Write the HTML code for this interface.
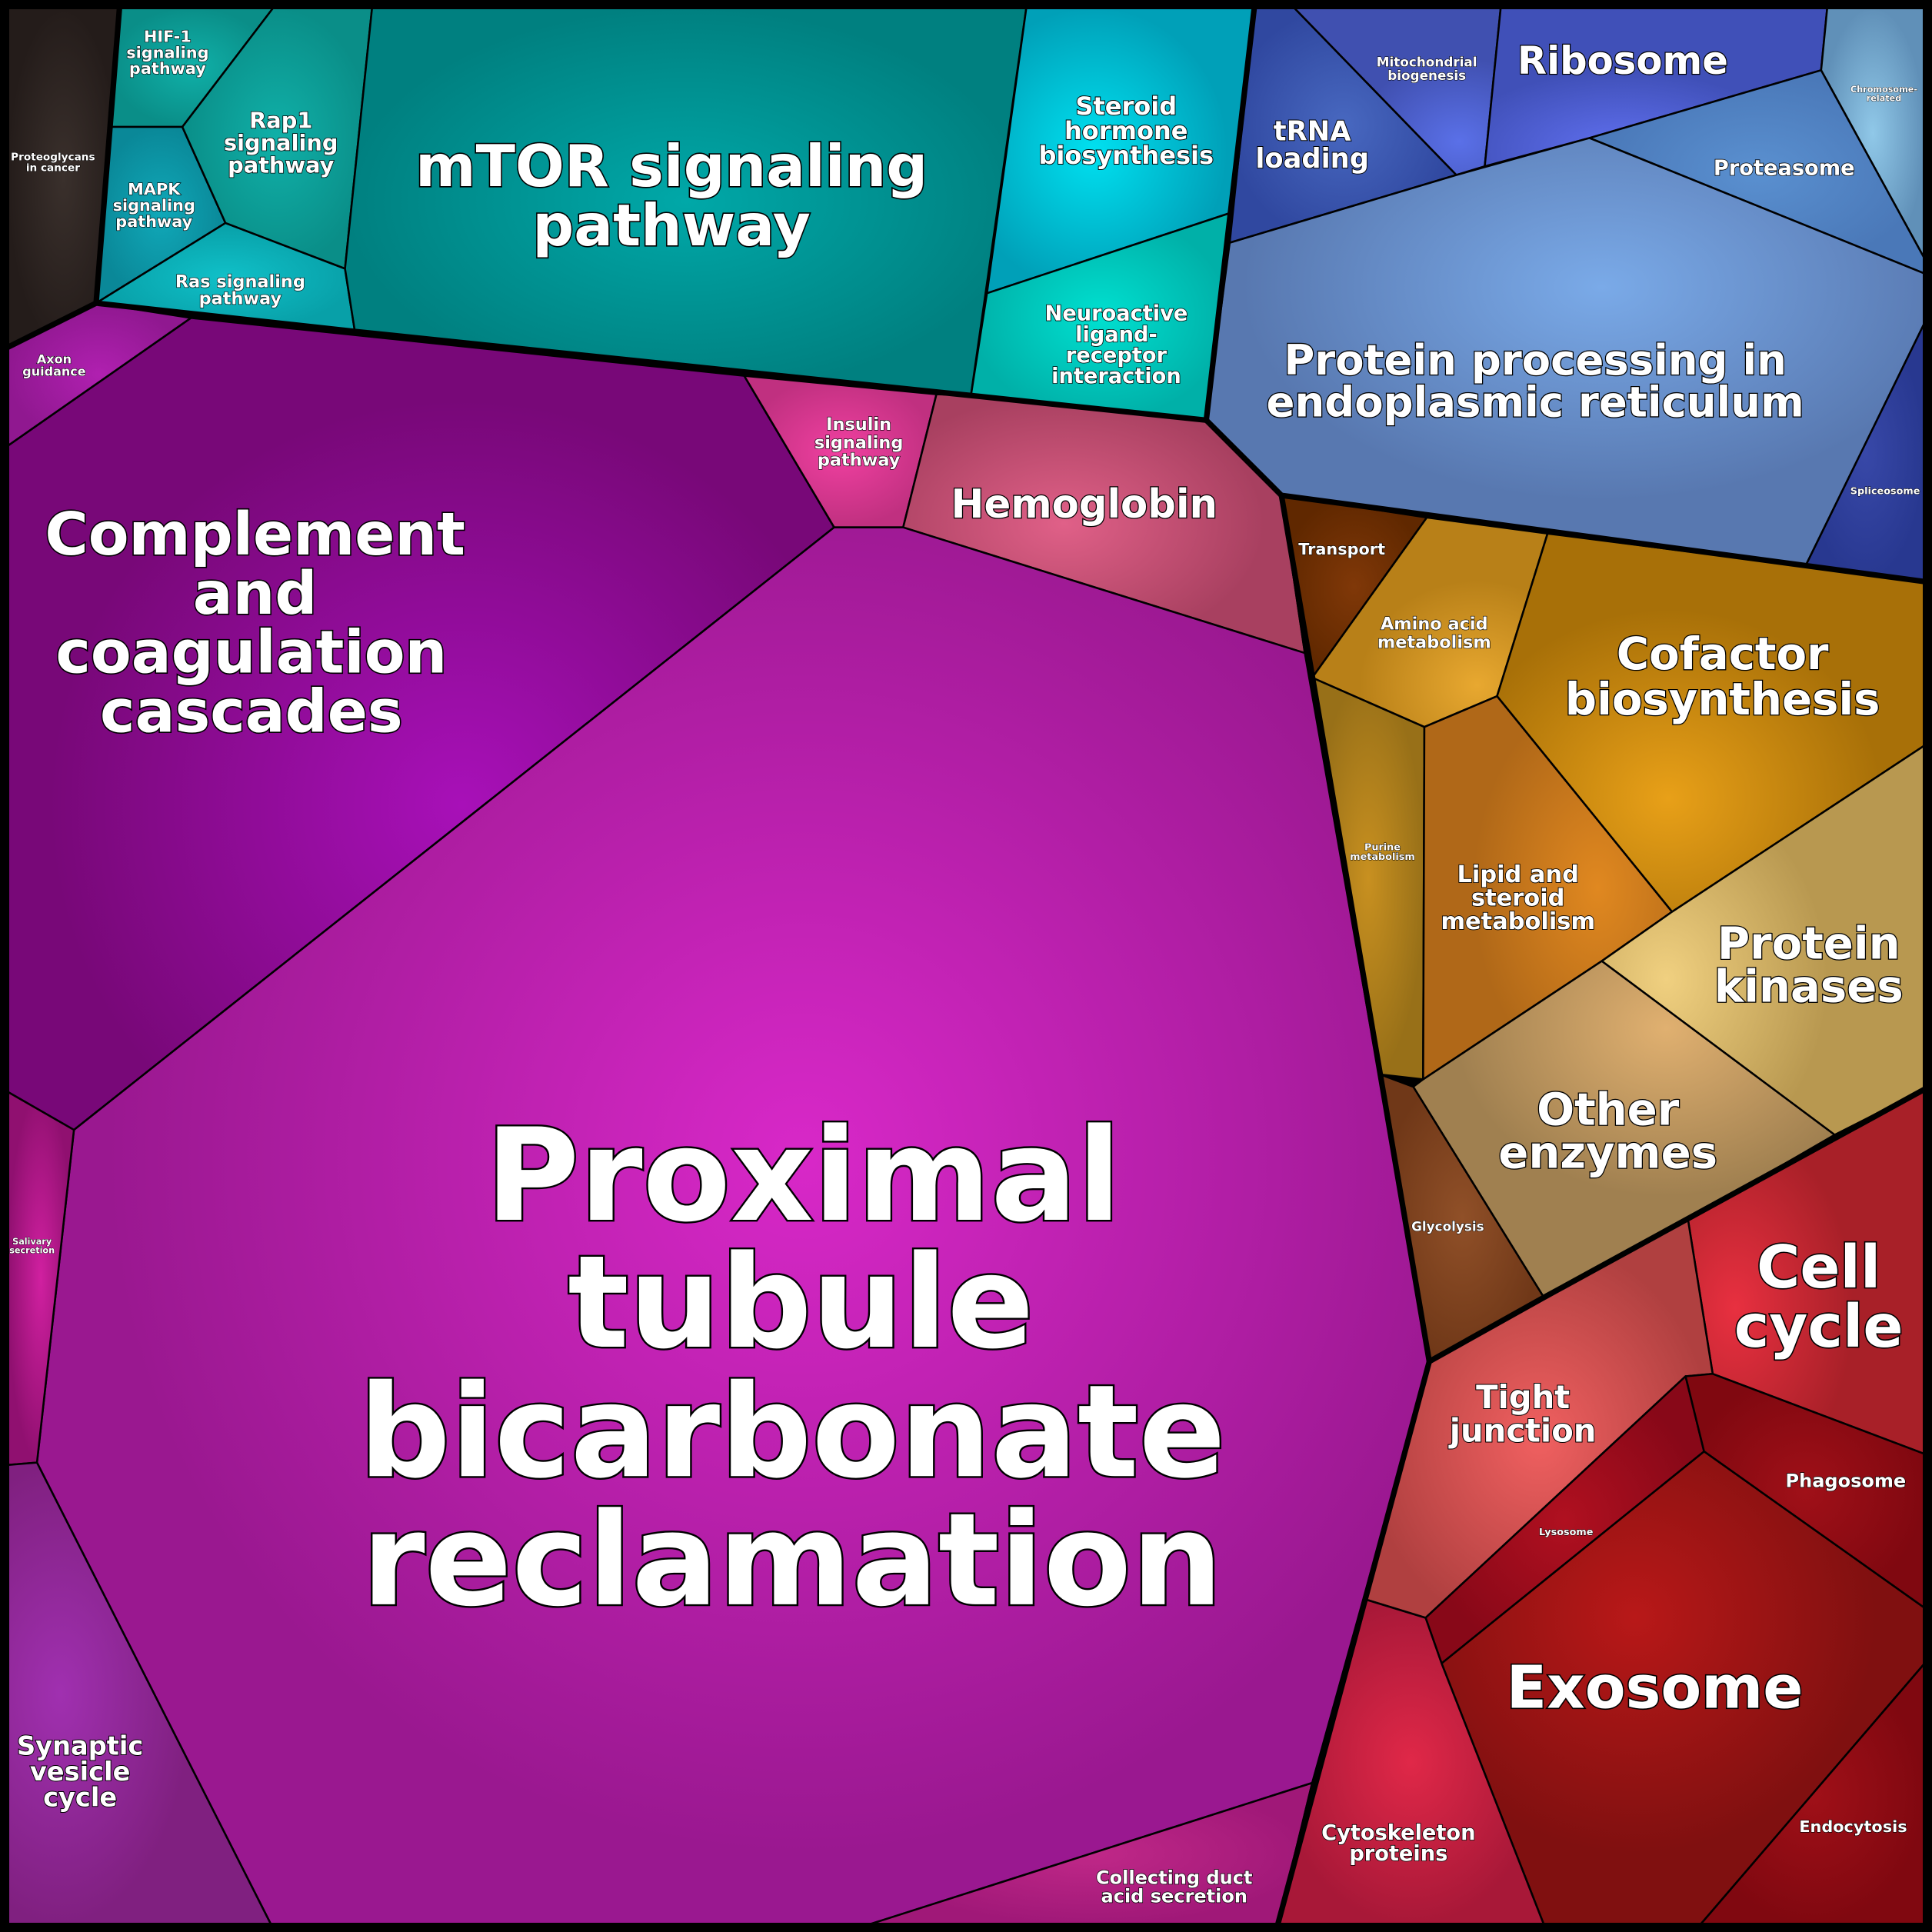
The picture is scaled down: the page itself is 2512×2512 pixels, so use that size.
<!DOCTYPE html>
<html><head><meta charset="utf-8"><style>
html,body{margin:0;padding:0;background:#000;}
svg{display:block;}
text{font-family:"DejaVu Sans","Liberation Sans",sans-serif;font-weight:bold;fill:#fff;stroke:#000;paint-order:stroke;text-anchor:middle;}
.c{stroke:#000;stroke-width:1.6;stroke-linejoin:round;}
.t{fill:none;stroke:#000;stroke-width:4.5;stroke-linejoin:round;stroke-linecap:round;}
</style></head><body>
<svg width="2512" height="2512" viewBox="0 0 1568 1568" xmlns="http://www.w3.org/2000/svg">
<defs>
<radialGradient id="g1"><stop offset="0" stop-color="#3a302c"/><stop offset="1" stop-color="#241c1a"/></radialGradient>
<radialGradient id="g2"><stop offset="0" stop-color="#10b0a8"/><stop offset="1" stop-color="#0a8e88"/></radialGradient>
<radialGradient id="g3"><stop offset="0" stop-color="#10a8b8"/><stop offset="1" stop-color="#0a8898"/></radialGradient>
<radialGradient id="g4"><stop offset="0" stop-color="#10c0c8"/><stop offset="1" stop-color="#08a0a8"/></radialGradient>
<radialGradient id="g5"><stop offset="0" stop-color="#00a8a8"/><stop offset="1" stop-color="#008080"/></radialGradient>
<radialGradient id="g6" cx="0.4" cy="0.5"><stop offset="0" stop-color="#00e0f0"/><stop offset="1" stop-color="#00a0b8"/></radialGradient>
<radialGradient id="g7"><stop offset="0" stop-color="#00e0d0"/><stop offset="1" stop-color="#00b0a8"/></radialGradient>
<radialGradient id="g8"><stop offset="0" stop-color="#4868c0"/><stop offset="1" stop-color="#3048a0"/></radialGradient>
<radialGradient id="g9" cx="0.8" cy="0.8"><stop offset="0" stop-color="#5a70e8"/><stop offset="1" stop-color="#4050b0"/></radialGradient>
<radialGradient id="g10" cx="0.4" cy="0.9"><stop offset="0" stop-color="#6070f0"/><stop offset="1" stop-color="#4050b8"/></radialGradient>
<radialGradient id="g11"><stop offset="0" stop-color="#90c8e8"/><stop offset="1" stop-color="#6090b8"/></radialGradient>
<radialGradient id="g12"><stop offset="0" stop-color="#5a90d0"/><stop offset="1" stop-color="#4a78b8"/></radialGradient>
<radialGradient id="g13" cx="0.55" cy="0.35"><stop offset="0" stop-color="#7aaae8"/><stop offset="1" stop-color="#5878b0"/></radialGradient>
<radialGradient id="g14"><stop offset="0" stop-color="#3848a8"/><stop offset="1" stop-color="#283890"/></radialGradient>
<radialGradient id="g15" cx="0.55" cy="0.6"><stop offset="0" stop-color="#a810b8"/><stop offset="1" stop-color="#780878"/></radialGradient>
<radialGradient id="g16"><stop offset="0" stop-color="#b020b0"/><stop offset="1" stop-color="#901890"/></radialGradient>
<radialGradient id="g17"><stop offset="0" stop-color="#f040a0"/><stop offset="1" stop-color="#c03080"/></radialGradient>
<radialGradient id="g18" cx="0.4" cy="0.5"><stop offset="0" stop-color="#e06088"/><stop offset="1" stop-color="#a84060"/></radialGradient>
<radialGradient id="g19" cx="0.55" cy="0.45"><stop offset="0" stop-color="#d828c8"/><stop offset="1" stop-color="#9a1890"/></radialGradient>
<radialGradient id="g20"><stop offset="0" stop-color="#d020a0"/><stop offset="1" stop-color="#901070"/></radialGradient>
<radialGradient id="g21" cx="0.2" cy="0.5"><stop offset="0" stop-color="#a030b0"/><stop offset="1" stop-color="#802080"/></radialGradient>
<radialGradient id="g22"><stop offset="0" stop-color="#c02888"/><stop offset="1" stop-color="#a01878"/></radialGradient>
<radialGradient id="g23"><stop offset="0" stop-color="#803808"/><stop offset="1" stop-color="#602800"/></radialGradient>
<radialGradient id="g24" cx="0.7" cy="0.8"><stop offset="0" stop-color="#e8a830"/><stop offset="1" stop-color="#b88018"/></radialGradient>
<radialGradient id="g25" cx="0.4" cy="0.7"><stop offset="0" stop-color="#e8a018"/><stop offset="1" stop-color="#a87008"/></radialGradient>
<radialGradient id="g26"><stop offset="0" stop-color="#c89020"/><stop offset="1" stop-color="#987018"/></radialGradient>
<radialGradient id="g27" cx="0.7" cy="0.5"><stop offset="0" stop-color="#e08820"/><stop offset="1" stop-color="#b06818"/></radialGradient>
<radialGradient id="g28" cx="0.2" cy="0.6"><stop offset="0" stop-color="#f0d080"/><stop offset="1" stop-color="#b89850"/></radialGradient>
<radialGradient id="g29" cx="0.6" cy="0.2"><stop offset="0" stop-color="#e0b070"/><stop offset="1" stop-color="#a08050"/></radialGradient>
<radialGradient id="g30"><stop offset="0" stop-color="#905028"/><stop offset="1" stop-color="#703818"/></radialGradient>
<radialGradient id="g31" cx="0.2" cy="0.6"><stop offset="0" stop-color="#e83040"/><stop offset="1" stop-color="#a82028"/></radialGradient>
<radialGradient id="g32" cx="0.5" cy="0.55"><stop offset="0" stop-color="#f06060"/><stop offset="1" stop-color="#b04040"/></radialGradient>
<radialGradient id="g33"><stop offset="0" stop-color="#b01020"/><stop offset="1" stop-color="#880818"/></radialGradient>
<radialGradient id="g34"><stop offset="0" stop-color="#a01018"/><stop offset="1" stop-color="#800810"/></radialGradient>
<radialGradient id="g35" cx="0.4" cy="0.35"><stop offset="0" stop-color="#b81818"/><stop offset="1" stop-color="#801010"/></radialGradient>
<radialGradient id="g36"><stop offset="0" stop-color="#e02848"/><stop offset="1" stop-color="#a81838"/></radialGradient>
</defs>
<rect x="0" y="0" width="1568" height="1568" fill="#000"/>
<g class="c">
<polygon fill="url(#g1)" points="6,6 97,6 78,246 6,282"/>
<polygon fill="url(#g2)" points="97,6 222,6 148,103 90,103"/>
<polygon fill="url(#g3)" points="90,103 148,103 183,181 78,246"/>
<polygon fill="url(#g4)" points="78,246 183,181 280,218 288,269"/>
<polygon fill="url(#g2)" points="148,103 222,6 302,6 280,218 183,181"/>
<polygon fill="url(#g5)" points="302,6 833,6 788,321 288,269 280,218"/>
<polygon fill="url(#g6)" points="833,6 1018,6 998,173 801,238"/>
<polygon fill="url(#g7)" points="801,238 998,173 979,341 788,321"/>
<polygon fill="url(#g8)" points="1018,6 1050,6 1182,142 998,197"/>
<polygon fill="url(#g9)" points="1050,6 1218,6 1205,135 1182,142"/>
<polygon fill="url(#g10)" points="1218,6 1483,6 1478,57 1290,112 1205,135"/>
<polygon fill="url(#g11)" points="1483,6 1562,6 1562,210 1478,57"/>
<polygon fill="url(#g12)" points="1478,57 1562,210 1562,222 1290,112"/>
<polygon fill="url(#g13)" points="998,197 1182,142 1290,112 1562,222 1562,262 1466,458 1040,402 979,341"/>
<polygon fill="url(#g14)" points="1562,262 1562,472 1466,458"/>
<polygon fill="url(#g15)" points="6,362 155,258 604,305 677,428 60,917 6,886"/>
<polygon fill="url(#g16)" points="6,282 78,246 155,258 6,362"/>
<polygon fill="url(#g17)" points="604,305 760,320 733,428 677,428"/>
<polygon fill="url(#g18)" points="760,320 788,321 979,341 1040,402 1059,530 733,428"/>
<polygon fill="url(#g19)" points="60,917 677,428 733,428 1059,530 1160,1105 1065,1447 705,1562 220,1562 30,1187"/>
<polygon fill="url(#g20)" points="6,886 60,917 30,1187 6,1189"/>
<polygon fill="url(#g21)" points="6,1189 30,1187 220,1562 6,1562"/>
<polygon fill="url(#g22)" points="705,1562 1065,1447 1037,1562"/>
<polygon fill="url(#g23)" points="1040,402 1158,420 1065,550 1059,530"/>
<polygon fill="url(#g24)" points="1158,420 1256,433 1215,565 1156,590 1065,550"/>
<polygon fill="url(#g25)" points="1256,433 1562,472 1562,605 1357,740 1215,565"/>
<polygon fill="url(#g26)" points="1065,550 1156,590 1155,876 1120,872"/>
<polygon fill="url(#g27)" points="1156,590 1215,565 1357,740 1300,780 1155,876"/>
<polygon fill="url(#g28)" points="1357,740 1562,605 1562,884 1489,921 1300,780"/>
<polygon fill="url(#g29)" points="1147,882 1155,876 1300,780 1489,921 1370,990 1253,1053"/>
<polygon fill="url(#g30)" points="1120,872 1147,882 1253,1053 1160,1105"/>
<polygon fill="url(#g31)" points="1370,990 1562,884 1562,1180 1390,1115"/>
<polygon fill="url(#g32)" points="1160,1105 1253,1053 1370,990 1390,1115 1368,1117 1157,1313 1108,1298"/>
<polygon fill="url(#g33)" points="1157,1313 1368,1117 1383,1178 1170,1350"/>
<polygon fill="url(#g34)" points="1368,1117 1390,1115 1562,1180 1562,1305 1383,1178"/>
<polygon fill="url(#g35)" points="1170,1350 1383,1178 1562,1305 1562,1350 1380,1562 1253,1562"/>
<polygon fill="url(#g34)" points="1562,1350 1562,1562 1380,1562"/>
<polygon fill="url(#g36)" points="1108,1298 1157,1313 1170,1350 1253,1562 1037,1562 1065,1447"/>
</g>
<g class="t">
<polyline points="97,6 78,246 6,282"/>
<polyline points="78,246 288,269 788,321 979,341 1018,6"/>
<polyline points="979,341 1040,402 1562,472"/>
<polyline points="1040,402 1160,1105 1253,1053 1562,884"/>
<polyline points="1160,1105 1108,1298 1037,1562"/>
<rect x="4" y="4" width="1560" height="1560" stroke-width="7"/>
</g>
<g>
<text font-size="104" stroke-width="3" x="652" y="990">Proximal</text>
<text font-size="104" stroke-width="3" x="650" y="1093">tubule</text>
<text font-size="104" stroke-width="3" x="643" y="1198">bicarbonate</text>
<text font-size="104" stroke-width="3" x="643" y="1302">reclamation</text>
<text font-size="48" stroke-width="2" x="207" y="450">Complement</text>
<text font-size="48" stroke-width="2" x="207" y="498">and</text>
<text font-size="48" stroke-width="2" x="204" y="546">coagulation</text>
<text font-size="48" stroke-width="2" x="204" y="594">cascades</text>
<text font-size="47" stroke-width="2" x="545" y="151">mTOR signaling</text>
<text font-size="47" stroke-width="2" x="545" y="199">pathway</text>
<text font-size="34" stroke-width="1.6" x="1246" y="304">Protein processing in</text>
<text font-size="34" stroke-width="1.6" x="1246" y="338">endoplasmic reticulum</text>
<text font-size="32" stroke-width="1.6" x="880" y="420">Hemoglobin</text>
<text font-size="36" stroke-width="1.6" x="1398" y="543">Cofactor</text>
<text font-size="36" stroke-width="1.6" x="1398" y="580">biosynthesis</text>
<text font-size="36" stroke-width="1.6" x="1468" y="778">Protein</text>
<text font-size="36" stroke-width="1.6" x="1468" y="813">kinases</text>
<text font-size="36" stroke-width="1.6" x="1305" y="913">Other</text>
<text font-size="36" stroke-width="1.6" x="1305" y="948">enzymes</text>
<text font-size="48" stroke-width="2" x="1476" y="1045">Cell</text>
<text font-size="48" stroke-width="2" x="1476" y="1093">cycle</text>
<text font-size="48" stroke-width="2" x="1343" y="1386">Exosome</text>
<text font-size="31" stroke-width="1.5" x="1317" y="60">Ribosome</text>
<text font-size="22" stroke-width="1.2" x="1065" y="114">tRNA</text>
<text font-size="22" stroke-width="1.2" x="1065" y="136">loading</text>
<text font-size="20" stroke-width="1.2" x="914" y="93">Steroid</text>
<text font-size="20" stroke-width="1.2" x="914" y="113">hormone</text>
<text font-size="20" stroke-width="1.2" x="914" y="133">biosynthesis</text>
<text font-size="17" stroke-width="1" x="906" y="260">Neuroactive</text>
<text font-size="17" stroke-width="1" x="906" y="277">ligand-</text>
<text font-size="17" stroke-width="1" x="906" y="294">receptor</text>
<text font-size="17" stroke-width="1" x="906" y="311">interaction</text>
<text font-size="18" stroke-width="1" x="228" y="104">Rap1</text>
<text font-size="18" stroke-width="1" x="228" y="122">signaling</text>
<text font-size="18" stroke-width="1" x="228" y="140">pathway</text>
<text font-size="13" stroke-width="0.8" x="136" y="34">HIF-1</text>
<text font-size="13" stroke-width="0.8" x="136" y="47">signaling</text>
<text font-size="13" stroke-width="0.8" x="136" y="60">pathway</text>
<text font-size="13" stroke-width="0.8" x="125" y="158">MAPK</text>
<text font-size="13" stroke-width="0.8" x="125" y="171">signaling</text>
<text font-size="13" stroke-width="0.8" x="125" y="184">pathway</text>
<text font-size="14" stroke-width="0.8" x="195" y="233">Ras signaling</text>
<text font-size="14" stroke-width="0.8" x="195" y="247">pathway</text>
<text font-size="10.5" stroke-width="0.7" x="1158" y="54">Mitochondrial</text>
<text font-size="10.5" stroke-width="0.7" x="1158" y="65">biogenesis</text>
<text font-size="17" stroke-width="1" x="1448" y="142">Proteasome</text>
<text font-size="7" stroke-width="0.5" x="1529" y="75">Chromosome-</text>
<text font-size="7" stroke-width="0.5" x="1529" y="82">related</text>
<text font-size="8" stroke-width="0.6" x="1530" y="401">Spliceosome</text>
<text font-size="8.5" stroke-width="0.6" x="43" y="130">Proteoglycans</text>
<text font-size="8.5" stroke-width="0.6" x="43" y="139">in cancer</text>
<text font-size="10" stroke-width="0.7" x="44" y="295">Axon</text>
<text font-size="10" stroke-width="0.7" x="44" y="305">guidance</text>
<text font-size="14" stroke-width="0.8" x="697" y="349">Insulin</text>
<text font-size="14" stroke-width="0.8" x="697" y="364">signaling</text>
<text font-size="14" stroke-width="0.8" x="697" y="378">pathway</text>
<text font-size="13" stroke-width="0.8" x="1089" y="450">Transport</text>
<text font-size="14" stroke-width="0.8" x="1164" y="511">Amino acid</text>
<text font-size="14" stroke-width="0.8" x="1164" y="526">metabolism</text>
<text font-size="8" stroke-width="0.6" x="1122" y="690">Purine</text>
<text font-size="8" stroke-width="0.6" x="1122" y="698">metabolism</text>
<text font-size="19" stroke-width="1.1" x="1232" y="716">Lipid and</text>
<text font-size="19" stroke-width="1.1" x="1232" y="735">steroid</text>
<text font-size="19" stroke-width="1.1" x="1232" y="754">metabolism</text>
<text font-size="10.5" stroke-width="0.7" x="1175" y="999">Glycolysis</text>
<text font-size="26" stroke-width="1.3" x="1236" y="1143">Tight</text>
<text font-size="26" stroke-width="1.3" x="1236" y="1170">junction</text>
<text font-size="8" stroke-width="0.6" x="1271" y="1246">Lysosome</text>
<text font-size="15" stroke-width="0.9" x="1498" y="1207">Phagosome</text>
<text font-size="13" stroke-width="0.8" x="1504" y="1487">Endocytosis</text>
<text font-size="17" stroke-width="1" x="1135" y="1493">Cytoskeleton</text>
<text font-size="17" stroke-width="1" x="1135" y="1510">proteins</text>
<text font-size="15" stroke-width="0.9" x="953" y="1529">Collecting duct</text>
<text font-size="15" stroke-width="0.9" x="953" y="1544">acid secretion</text>
<text font-size="21" stroke-width="1.2" x="65" y="1424">Synaptic</text>
<text font-size="21" stroke-width="1.2" x="65" y="1445">vesicle</text>
<text font-size="21" stroke-width="1.2" x="65" y="1466">cycle</text>
<text font-size="7" stroke-width="0.5" x="26" y="1010">Salivary</text>
<text font-size="7" stroke-width="0.5" x="26" y="1017">secretion</text>
</g>
</svg>
</body></html>
